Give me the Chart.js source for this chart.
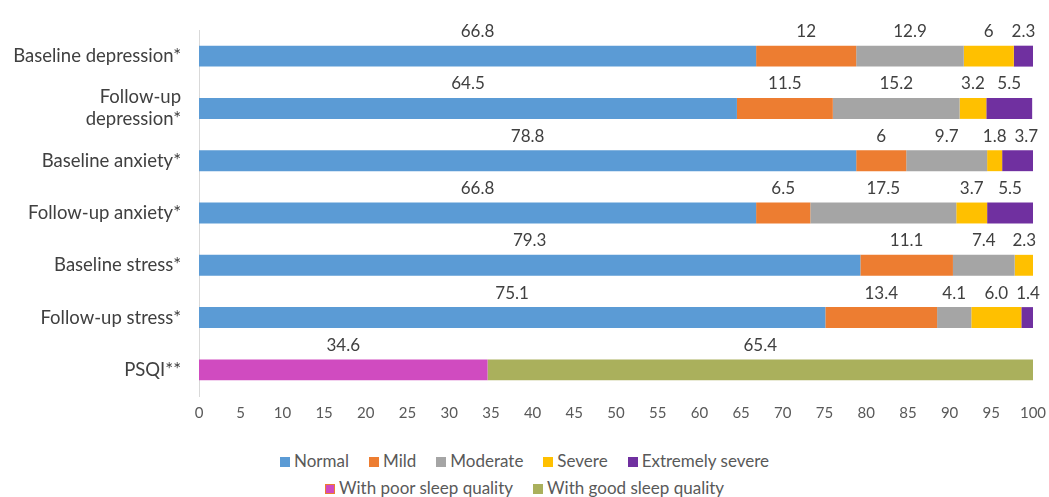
<!DOCTYPE html>
<html>
<head>
<meta charset="utf-8">
<script src="https://cdn.jsdelivr.net/npm/chart.js@4"></script>
<style>
    body { margin: 0; background: #fff; font-family: Lato, sans-serif; }
    #wrap { width: 1049px; height: 440px; position: relative; }
    #legend { width: 1049px; text-align: center; color: #595959; font-size: 17px; padding-top: 7px; }
    .row { height: 27px; line-height: 27px; }
    .item { display: inline-block; margin: 0 10px; }
    .box { display: inline-block; width: 10px; height: 10px; margin-right: 4px; vertical-align: 0px; box-sizing: border-box; }
</style>
</head>
<body>
<div id="wrap"><canvas id="barchart"></canvas></div>
<div id="legend"></div>
<script>
    'use strict'

    const categories = [
        'Baseline depression*',
        ['Follow-up', 'depression*'],
        'Baseline anxiety*',
        'Follow-up anxiety*',
        'Baseline stress*',
        'Follow-up stress*',
        'PSQI**'
    ];
    const xTicks = [0, 5, 10, 15, 20, 25, 30, 35, 40, 45, 50, 55, 60, 65, 70, 75, 80, 85, 90, 95, 100];

    // severity groups (null on the PSQI row)
    const normal = [66.8, 64.5, 78.8, 66.8, 79.3, 75.1, null];
    const mild = [12, 11.5, 6, 6.5, 11.1, 13.4, null];
    const moderate = [12.9, 15.2, 9.7, 17.5, 7.4, 4.1, null];
    const severe = [6, 3.2, 1.8, 3.7, 2.3, 6.0, null];
    const extremelySevere = [2.3, 5.5, 3.7, 5.5, null, 1.4, null];
    // sleep quality (PSQI row only)
    const poorSleep = [null, null, null, null, null, null, 34.6];
    const goodSleep = [null, null, null, null, null, null, 65.4];
    // texts printed above the segments
    const labelText = {
        'Normal': ['66.8', '64.5', '78.8', '66.8', '79.3', '75.1', null],
        'Mild': ['12', '11.5', '6', '6.5', '11.1', '13.4', null],
        'Moderate': ['12.9', '15.2', '9.7', '17.5', '7.4', '4.1', null],
        'Severe': ['6', '3.2', '1.8', '3.7', '2.3', '6.0', null],
        'Extremely severe': ['2.3', '5.5', '3.7', '5.5', null, '1.4', null],
        'With poor sleep quality': [null, null, null, null, null, null, '34.6'],
        'With good sleep quality': [null, null, null, null, null, null, '65.4']
    };

    const datasets = [
        { label: 'Normal', data: normal, backgroundColor: '#5B9BD5' },
        { label: 'Mild', data: mild, backgroundColor: '#ED7D31' },
        { label: 'Moderate', data: moderate, backgroundColor: '#A5A5A5' },
        { label: 'Severe', data: severe, backgroundColor: '#FFC000' },
        { label: 'Extremely severe', data: extremelySevere, backgroundColor: '#7030A0' },
        { label: 'With poor sleep quality', data: poorSleep, backgroundColor: '#D04BC0', legendBorder: '#ED7D31' },
        { label: 'With good sleep quality', data: goodSleep, backgroundColor: '#AAB05C' }
    ];
    datasets.forEach(function (d) {
        d.barPercentage = 0.4;
        d.categoryPercentage = 1.0;
        d.borderWidth = 0;
    });

    // labels above each segment, nudged right when they would overlap
    const topLabels = {
        id: 'topLabels',
        afterDatasetsDraw: function (chart) {
            const ctx = chart.ctx;
            ctx.save();
            ctx.font = '17px Lato';
            ctx.fillStyle = '#404040';
            ctx.textAlign = 'center';
            ctx.textBaseline = 'middle';
            const lastRight = {};
            chart.data.datasets.forEach(function (ds, i) {
                const meta = chart.getDatasetMeta(i);
                const texts = labelText[ds.label];
                meta.data.forEach(function (bar, j) {
                    if (ds.data[j] == null || !texts[j]) return;
                    const w = ctx.measureText(texts[j]).width;
                    let cx = (bar.x + bar.base) / 2;
                    if (lastRight[j] != null && cx - w / 2 < lastRight[j] + 8) {
                        cx = lastRight[j] + 8 + w / 2;
                    }
                    lastRight[j] = cx + w / 2;
                    const top = bar.y - bar.height / 2;
                    ctx.fillText(texts[j], cx, top - 14);
                });
            });
            ctx.restore();
        }
    };

    const ctx = document.getElementById('barchart');
    const myChart = new Chart(ctx, {
        type: 'bar',
        data: { labels: categories, datasets: datasets },
        plugins: [topLabels],
        options: {
            indexAxis: 'y',
            responsive: true,
            maintainAspectRatio: false,
            animation: false,
            layout: { padding: { top: 30, right: 16, bottom: 10, left: 0 } },
            plugins: {
                legend: { display: false },
                tooltip: { enabled: false }
            },
            scales: {
                x: {
                    stacked: true,
                    min: 0,
                    max: 100,
                    afterBuildTicks: function (scale) {
                        scale.ticks = xTicks.map(function (v) { return { value: v }; });
                    },
                    grid: { display: false },
                    border: { display: false },
                    ticks: { color: '#595959', font: { family: 'Lato', size: 15 }, padding: 0, maxRotation: 0, autoSkip: false },
                    afterFit: function (scale) { scale.height = 34; }
                },
                y: {
                    stacked: true,
                    grid: { display: false },
                    border: { display: true, color: '#D9D9D9' },
                    ticks: { color: '#404040', font: { family: 'Lato', size: 18.5 }, padding: 10 },
                    afterFit: function (scale) { scale.width = 199; }
                }
            }
        }
    });

    // html legend in two rows like the original
    const legendRows = [datasets.slice(0, 5), datasets.slice(5)];
    const legendDiv = document.getElementById('legend');
    legendRows.forEach(function (row) {
        const r = document.createElement('div');
        r.className = 'row';
        row.forEach(function (d) {
            const it = document.createElement('span');
            it.className = 'item';
            const b = document.createElement('span');
            b.className = 'box';
            b.style.background = d.backgroundColor;
            if (d.legendBorder) b.style.border = '1px solid ' + d.legendBorder;
            it.appendChild(b);
            it.appendChild(document.createTextNode(d.label));
            r.appendChild(it);
        });
        legendDiv.appendChild(r);
    });
</script>
</body>
</html>
